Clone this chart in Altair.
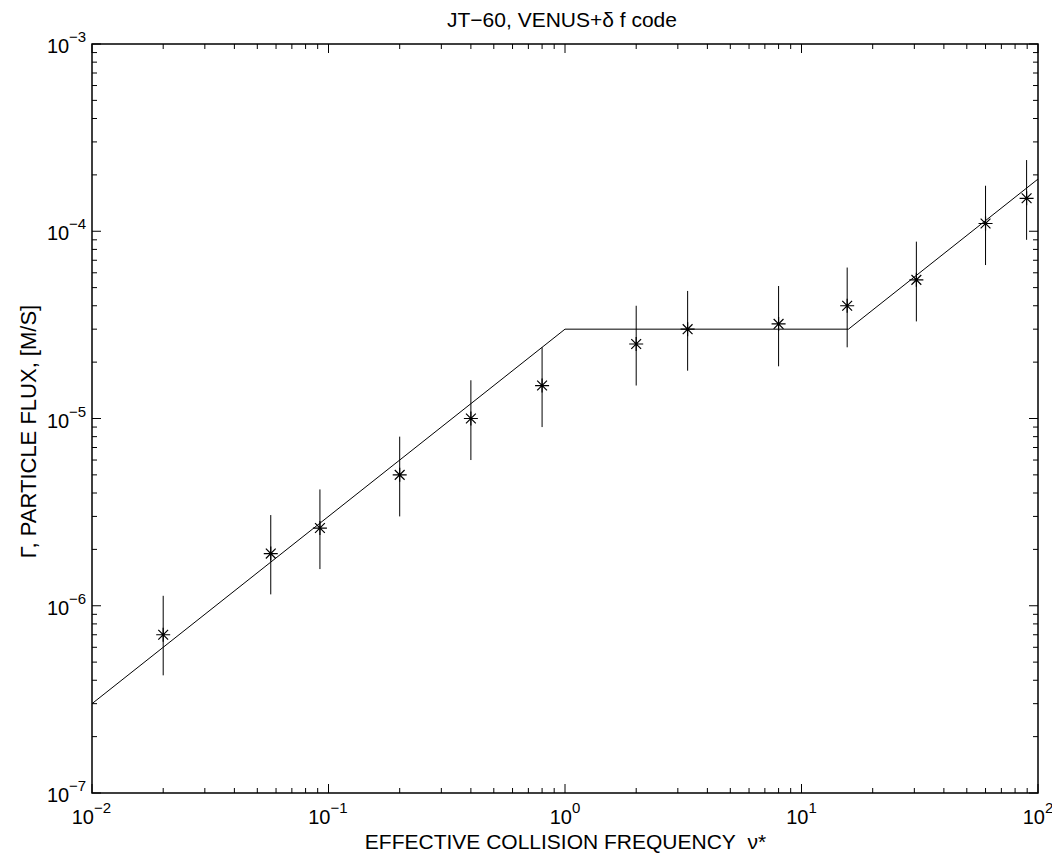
import altair as alt
import pandas as pd

# ---- data ----
nu = [0.02, 0.057, 0.092, 0.2, 0.4, 0.8, 2.0, 3.3, 8.0, 15.6, 30.6, 60.0, 89.5]
flux = [7.0e-7, 1.9e-6, 2.6e-6, 5.0e-6, 1.0e-5, 1.5e-5, 2.5e-5, 3.0e-5, 3.2e-5, 4.0e-5, 5.5e-5, 1.1e-4, 1.5e-4]
flux_lo = [4.25e-7, 1.15e-6, 1.57e-6, 3.0e-6, 6.0e-6, 9.0e-6, 1.5e-5, 1.8e-5, 1.9e-5, 2.4e-5, 3.3e-5, 6.6e-5, 9.0e-5]
flux_hi = [1.13e-6, 3.05e-6, 4.18e-6, 8.0e-6, 1.6e-5, 2.4e-5, 4.0e-5, 4.8e-5, 5.1e-5, 6.4e-5, 8.8e-5, 1.75e-4, 2.4e-4]

fit_nu = [0.01, 1.0, 15.8, 100.0]
fit_flux = [3.0e-7, 3.0e-5, 3.0e-5, 1.9e-4]

x_major = [0.01, 0.1, 1, 10, 100]
x_exp = ["\u22122", "\u22121", "0", "1", "2"]
y_major = [1e-7, 1e-6, 1e-5, 1e-4, 1e-3]
y_exp = ["\u22127", "\u22126", "\u22125", "\u22124", "\u22123"]
minor_mult = [2, 3, 4, 5, 6, 7, 8, 9]
x_minor = [m * d for d in [0.01, 0.1, 1, 10] for m in minor_mult]
y_minor = [m * d for d in [1e-7, 1e-6, 1e-5, 1e-4] for m in minor_mult]

TITLE = "JT\u221260, VENUS+\u03b4 f code"
XTITLE = "EFFECTIVE COLLISION FREQUENCY\u00a0 \u03bd*"
YTITLE = "\u0393, PARTICLE FLUX, [M/S]"

FONT = "Liberation Sans"
W, H = 946, 749
MAJ, MIN = 9, 5

xs = alt.Scale(type="log", domain=[0.01, 100], nice=False)
ys = alt.Scale(type="log", domain=[1e-7, 1e-3], nice=False)

pts = pd.DataFrame({"nu": nu, "flux": flux, "lo": flux_lo, "hi": flux_hi})
fit = pd.DataFrame({"nu": fit_nu, "flux": fit_flux})

xaxis = alt.Axis(title=XTITLE, labels=False, ticks=False, domain=False, grid=False,
                 titleFont=FONT, titleFontSize=21, titleFontWeight="normal",
                 titleColor="black", titleBaseline="alphabetic", titleY=55)
yaxis = alt.Axis(title=YTITLE, labels=False, ticks=False, domain=False, grid=False,
                 titleFont=FONT, titleFontSize=22, titleFontWeight="normal",
                 titleColor="black", titleBaseline="alphabetic", titleX=-57,
                 titleY=387, titleAlign="center", titleAngle=270)

def X(field):
    return alt.X(field, scale=xs, axis=xaxis)

def Y(field):
    return alt.Y(field, scale=ys, axis=yaxis)

line = alt.Chart(fit).mark_line(color="black", strokeWidth=1, clip=True).encode(
    x=X("nu:Q"), y=Y("flux:Q"),
)

err = alt.Chart(pts).mark_rule(color="black", strokeWidth=1).encode(
    x=X("nu:Q"), y=Y("lo:Q"), y2="hi:Q",
)

STAR = "M-1,0L1,0M0,-1L0,1M-0.7,-0.7L0.7,0.7M-0.7,0.7L0.7,-0.7"
stars = alt.Chart(pts).mark_point(shape=STAR, filled=False, color="black",
                                   strokeWidth=1.2, size=196, opacity=1).encode(
    x=X("nu:Q"), y=Y("flux:Q"),
)

# ---- inward ticks on all four sides ----
xt_major = pd.DataFrame({"v": x_major})
xt_minor = pd.DataFrame({"v": x_minor})
yt_major = pd.DataFrame({"v": y_major})
yt_minor = pd.DataFrame({"v": y_minor})

def xticks(df, length):
    base = alt.Chart(df).mark_rule(color="black", strokeWidth=1)
    bottom = base.encode(x=X("v:Q"), y=alt.value(H), y2=alt.value(H - length))
    top = base.encode(x=X("v:Q"), y=alt.value(0), y2=alt.value(length))
    return [bottom, top]

def yticks(df, length):
    base = alt.Chart(df).mark_rule(color="black", strokeWidth=1)
    left = base.encode(y=Y("v:Q"), x=alt.value(0), x2=alt.value(length))
    right = base.encode(y=Y("v:Q"), x=alt.value(W), x2=alt.value(W - length))
    return [left, right]

tick_layers = (xticks(xt_major, MAJ) + xticks(xt_minor, MIN)
               + yticks(yt_major, MAJ) + yticks(yt_minor, MIN))

# ---- tick labels: "10" with a superscript exponent ----
xl = pd.DataFrame({"v": x_major, "base": ["10"] * 5, "exp": x_exp,
                   "neg": [e.startswith("\u2212") for e in x_exp]})
yl = pd.DataFrame({"v": y_major, "base": ["10"] * 5, "exp": y_exp})

def xlabel_layers(neg, dx):
    src = alt.Chart(xl).transform_filter(
        "datum.neg" if neg else "!datum.neg")
    b = src.mark_text(align="right", baseline="alphabetic", font=FONT,
                      fontSize=20, color="black", dx=dx).encode(
        x=X("v:Q"), y=alt.value(H + 31), text="base:N")
    e = src.mark_text(align="left", baseline="alphabetic", font=FONT,
                      fontSize=15, color="black", dx=dx).encode(
        x=X("v:Q"), y=alt.value(H + 20), text="exp:N")
    return [b, e]

xlab = xlabel_layers(True, 2) + xlabel_layers(False, 7)

ybase = alt.Chart(yl).mark_text(align="left", baseline="alphabetic", font=FONT,
                                fontSize=20, color="black", dy=9).encode(
    y=Y("v:Q"), x=alt.value(-45), text="base:N")
yexp = alt.Chart(yl).mark_text(align="left", baseline="alphabetic", font=FONT,
                               fontSize=15, color="black", dy=-2).encode(
    y=Y("v:Q"), x=alt.value(-23), text="exp:N")

title = alt.Chart(pd.DataFrame({"t": [TITLE]})).mark_text(
    align="center", baseline="alphabetic", font=FONT, fontSize=21, color="black"
).encode(text="t:N", x=alt.value(W / 2 - 3), y=alt.value(-17))

chart = alt.layer(line, err, stars, *tick_layers, *xlab, ybase, yexp, title).properties(
    width=W, height=H,
    autosize=alt.AutoSizeParams(type="none"),
    padding={"left": 84, "top": 36, "right": 14, "bottom": 60},
    background="white",
).configure_view(stroke="black", strokeWidth=1.5)

chart.save("out.html", embed_options={"renderer": "svg", "actions": False})
